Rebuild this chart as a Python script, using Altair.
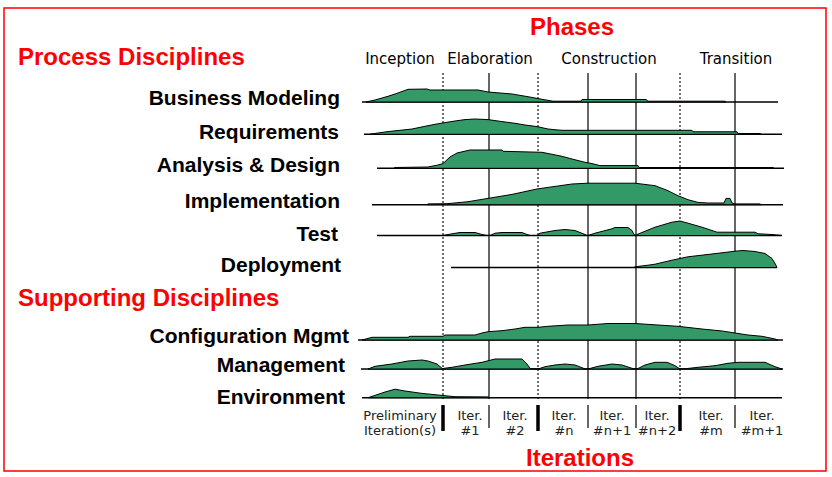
import altair as alt
import pandas as pd

W, H = 832, 477
GREEN = "#339966"
RED = "#ff0000"
ARIAL = "Liberation Sans, Arial, sans-serif"
WIDE = "DejaVu Sans, Verdana, sans-serif"

# ---------------- data ----------------
disciplines = ["Business Modeling", "Requirements", "Analysis & Design",
               "Implementation", "Test", "Deployment",
               "Configuration Mgmt", "Management", "Environment"]

# hump profiles: time position (x) and activity level (h)
bm_x = [366, 375, 388, 398, 408, 427, 430, 478, 488, 512, 528, 542, 553, 581, 582, 646, 648, 725, 726]
bm_h = [0, 2, 5.7, 9, 12.7, 13, 12, 12, 10, 8, 5.3, 2.7, 0.8, 0.8, 2.5, 2.5, 0.8, 0.8, 0]

rq_x = [370, 378, 388, 400, 412, 425, 435, 445, 455, 465, 475, 488, 502, 515, 525, 537, 548, 558, 563, 692, 693, 737, 738, 760, 761]
rq_h = [0, 1.3, 2.7, 4, 5.3, 8, 10, 11.7, 13.3, 14.7, 15.3, 14.7, 12.7, 11, 9.3, 7.7, 5.3, 4.3, 4, 4, 2.5, 2.5, 0.8, 0.8, 0]

ad_x = [394, 395, 428, 438, 443, 450, 457, 470, 502, 503, 542, 552, 562, 572, 585, 592, 600, 638, 639, 773, 774]
ad_h = [0, 0.8, 1.3, 3.3, 4.7, 11.3, 15.3, 18.3, 18.3, 17, 16, 14, 12, 9.3, 6, 4.7, 2.7, 2.7, 0.8, 0.8, 0]

im_x = [427, 428, 447, 468, 488, 512, 537, 555, 572, 588, 635, 655, 668, 678, 688, 698, 708, 724, 726, 730, 732, 735, 760, 761]
im_h = [0, 0.8, 1, 3, 6.3, 10.3, 15.7, 18.3, 20.7, 21.5, 21.5, 19, 14, 9, 5, 2.3, 1.7, 1.7, 6.3, 6.3, 1.7, 0.8, 0.8, 0]

ts_x = [443, 452, 460, 475, 482, 487, 490, 495, 502, 522, 527, 530, 537, 540, 555, 565, 575, 585, 587,
        588, 595, 612, 615, 628, 632, 634, 636, 637, 655, 672, 680, 688, 702, 717, 755, 758, 772, 782]
ts_h = [0, 1.7, 3, 3, 1, 0, 0, 2.3, 3, 3, 1, 0, 0, 2.3, 5, 6, 5, 1, 0,
        0, 2.3, 6.7, 8, 8, 5, 1, 0, 1, 8.3, 13.3, 14.5, 12.3, 8.3, 3.3, 3.3, 1.7, 1, 0]

dp_x = [634, 635, 648, 655, 672, 688, 705, 722, 735, 743, 755, 765, 772, 776, 777]
dp_h = [0, 0.7, 2.3, 3.3, 7.3, 10.7, 12.7, 14.7, 16.3, 17, 16, 14, 9, 2.3, 0]

cm_x = [362, 372, 408, 410, 443, 445, 475, 482, 488, 502, 515, 525, 538, 548, 568, 588, 608, 635, 658, 678, 702, 722, 735, 748, 762, 775, 778]
cm_h = [0, 2.7, 2.7, 3.7, 3.7, 5, 5, 7, 8.3, 9.3, 11, 12.7, 12.7, 13.7, 15, 15, 16.5, 16.5, 15, 13.7, 11, 9, 7, 5, 3.7, 1, 0]

mg_x = [368, 375, 392, 408, 422, 428, 437, 442, 443, 444, 452, 465, 482, 495, 522, 527, 530, 532,
        538, 545, 555, 565, 575, 582, 585, 588, 598, 612, 622, 632, 635, 637, 645, 655, 667, 675, 680,
        683, 698, 715, 728, 738, 765, 775, 782]
mg_h = [0, 2.7, 5, 8, 9, 8, 5, 0.7, 0, 0.7, 1.7, 4, 6.7, 10, 10, 5, 0.7, 0,
        0, 2.3, 4, 5, 4, 1.3, 0, 0, 2.7, 5, 4, 0.7, 0, 0, 4, 6.7, 6.7, 3.3, 0,
        0, 1.7, 3.3, 5.7, 6.7, 6.7, 2.3, 0]

ev_x = [368, 375, 385, 395, 405, 422, 442, 455, 488, 490]
ev_h = [0, 2.3, 5.7, 8.5, 6.7, 4.3, 2.3, 1, 0.8, 0]

profiles = [(bm_x, bm_h), (rq_x, rq_h), (ad_x, ad_h), (im_x, im_h), (ts_x, ts_h),
            (dp_x, dp_h), (cm_x, cm_h), (mg_x, mg_h), (ev_x, ev_h)]

# time extent of each discipline's baseline
line_start = [362, 364, 377, 372, 377, 451, 358, 361, 362]
line_end = [778, 782, 784, 783, 782, 777, 783, 783, 782]

# phase / iteration boundaries on the time axis
phase_bounds = [443, 538, 680]
iter_bounds = [489, 588, 636, 735]
phases = ["Inception", "Elaboration", "Construction", "Transition"]
phase_centers = [400, 490, 609, 736]
iter_line1 = ["Preliminary", "Iter.", "Iter.", "Iter.", "Iter.", "Iter.", "Iter.", "Iter."]
iter_line2 = ["Iteration(s)", "#1", "#2", "#n", "#n+1", "#n+2", "#m", "#m+1"]
iter_centers = [400, 470, 515, 564, 612, 657, 711, 762]

# ---------------- layout ----------------
row_base = [102, 134.3, 168.3, 204.7, 235.5, 267.5, 340, 369, 397.7]
label_y = [104.5, 138.5, 171.5, 207.5, 240.5, 271.5, 342.7, 371.7, 404]
label_x = [340, 339, 340, 340, 338, 341, 349, 345, 345]

rows = []
for d, (xs_, hs_), b in zip(disciplines, profiles, row_base):
    for xv, hv in zip(xs_, hs_):
        rows.append({"disc": d, "x": xv, "top": b - hv, "base": b})
area_df = pd.DataFrame(rows)

base_df = pd.DataFrame({"disc": disciplines, "x": line_start, "x2": line_end, "y": row_base})
lab_df = pd.DataFrame({"label": disciplines, "x": label_x, "y": label_y})

xs = alt.Scale(domain=[0, W], nice=False, zero=False)
ys = alt.Scale(domain=[0, H], reverse=True, nice=False, zero=False)

def X(f):
    return alt.X(f, scale=xs, axis=None)

def Y(f):
    return alt.Y(f, scale=ys, axis=None)

# border
border = alt.Chart(pd.DataFrame({"x": [4], "x2": [826], "y": [8], "y2": [471]})).mark_rect(
    fill="white", stroke=RED, strokeWidth=1.5).encode(x=X("x:Q"), x2="x2:Q", y=Y("y:Q"), y2="y2:Q")

# grid lines
dotted = alt.Chart(pd.DataFrame({"x": phase_bounds})).mark_rule(
    color="#444444", strokeWidth=1.5, strokeDash=[2, 2]).encode(
    x=X("x:Q"), y=alt.value(73), y2=alt.value(399))
solid = alt.Chart(pd.DataFrame({"x": iter_bounds})).mark_rule(
    color="black", strokeWidth=1.2).encode(x=X("x:Q"), y=alt.value(73), y2=alt.value(399))

# iteration separators under the chart
sep_thick = alt.Chart(pd.DataFrame({"x": phase_bounds})).mark_rule(
    color="black", strokeWidth=3.5).encode(x=X("x:Q"), y=alt.value(405), y2=alt.value(431))
sep_thin = alt.Chart(pd.DataFrame({"x": iter_bounds})).mark_rule(
    color="black", strokeWidth=1.2).encode(x=X("x:Q"), y=alt.value(405), y2=alt.value(428))

baselines = alt.Chart(base_df).mark_rule(color="black", strokeWidth=1.4).encode(
    x=X("x:Q"), x2="x2:Q", y=Y("y:Q"))

humps = alt.Chart(area_df).mark_area(
    fill=GREEN, stroke="black", strokeWidth=1, interpolate="linear").encode(
    x=X("x:Q"), y=Y("top:Q"), y2="base:Q", detail="disc:N")

labels = alt.Chart(lab_df).mark_text(
    align="right", baseline="alphabetic", font=ARIAL, fontSize=21, fontWeight="bold",
    color="black").encode(x=X("x:Q"), y=Y("y:Q"), text="label:N")

phase_lab = alt.Chart(pd.DataFrame({"t": phases, "x": phase_centers})).mark_text(
    align="center", baseline="alphabetic", font=WIDE, fontSize=15, color="black").encode(
    x=X("x:Q"), y=alt.value(64), text="t:N")

iter1 = alt.Chart(pd.DataFrame({"t": iter_line1, "x": iter_centers})).mark_text(
    align="center", baseline="alphabetic", font=WIDE, fontSize=13, color="#222222").encode(
    x=X("x:Q"), y=alt.value(420), text="t:N")
iter2 = alt.Chart(pd.DataFrame({"t": iter_line2, "x": iter_centers})).mark_text(
    align="center", baseline="alphabetic", font=WIDE, fontSize=13, color="#222222").encode(
    x=X("x:Q"), y=alt.value(434.5), text="t:N")

titles_df = pd.DataFrame({
    "t": ["Phases", "Iterations", "Process Disciplines", "Supporting Disciplines"],
    "x": [572, 580, 18, 18],
    "y": [35, 466, 65, 306],
    "a": ["center", "center", "left", "left"],
})
title_c = alt.Chart(titles_df[titles_df.a == "center"]).mark_text(
    align="center", baseline="alphabetic", font=ARIAL, fontSize=24, fontWeight="bold",
    color=RED).encode(x=X("x:Q"), y=Y("y:Q"), text="t:N")
title_l = alt.Chart(titles_df[titles_df.a == "left"]).mark_text(
    align="left", baseline="alphabetic", font=ARIAL, fontSize=24, fontWeight="bold",
    color=RED).encode(x=X("x:Q"), y=Y("y:Q"), text="t:N")

chart = alt.layer(
    border, dotted, solid, sep_thick, sep_thin, baselines, humps,
    labels, phase_lab, iter1, iter2, title_c, title_l
).properties(
    width=W, height=H, padding=0, autosize="none", background="white"
).configure_view(stroke=None)

chart.save("out.html", embed_options={"renderer": "svg", "actions": False})
